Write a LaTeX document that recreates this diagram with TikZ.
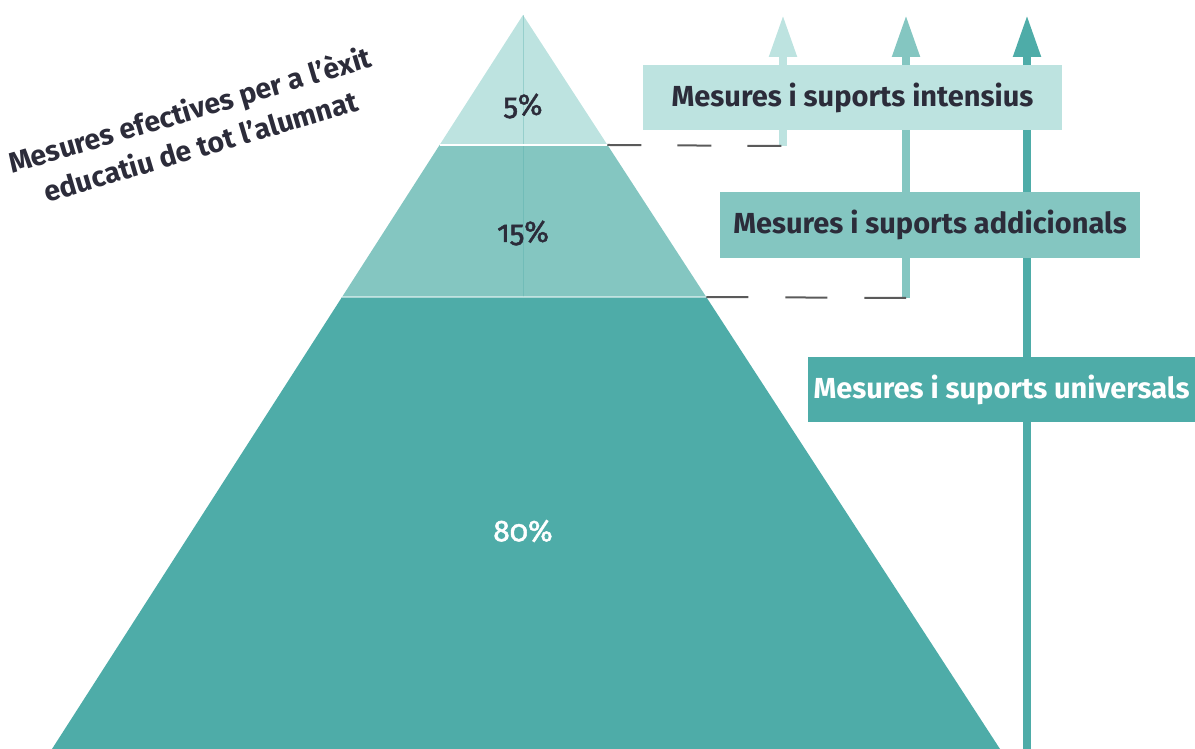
\documentclass[tikz,border=0pt]{standalone}
\usepackage{fontspec}
\setmainfont{Fira Sans}
\newfontfamily\pctfont{Fira Sans}[Numbers=OldStyle, FakeBold=1.6]
\usetikzlibrary{arrows.meta}
\usetikzlibrary{calc}

\definecolor{tealLight}{HTML}{BDE3E0}
\definecolor{tealMid}{HTML}{84C6C1}
\definecolor{tealDark}{HTML}{4EACA8}
\definecolor{textDark}{HTML}{2C2C3A}
\definecolor{dashGray}{HTML}{5A5A5A}

\begin{document}
\begin{tikzpicture}[x = 1pt, y = -1pt]
	\tikzstyle{boxStyle} = [shape = rectangle, inner sep = 0pt, minimum height = 65pt, font = \fontsize{29}{34}\selectfont\bfseries, text = textDark]
	\tikzstyle{arrowStyle} = [line width = 8pt, -{Triangle[width = 26pt, length = 42pt]}]
	\tikzstyle{dashStyle} = [line width = 2pt, draw = dashGray]
	\tikzstyle{pctStyle} = [font = \fontsize{30}{34}\selectfont\pctfont, text = textDark]
	\tikzstyle{titleStyle} = [align = center, rotate = 16.5, font = \fontsize{28.5}{38}\selectfont\bfseries, text = textDark]
	\useasboundingbox (0,0) rectangle (1195,749);
	% pyramid corners
	\coordinate (apex) at (523,15);
	\coordinate (bl) at (52,749);
	\coordinate (br) at (1000,749);
	\coordinate (l1) at ($(apex)!0.1771!(bl)$);
	\coordinate (r1) at ($(apex)!0.1771!(br)$);
	\coordinate (l2) at ($(apex)!0.3842!(bl)$);
	\coordinate (r2) at ($(apex)!0.3842!(br)$);
	\fill[tealDark] (l2) -- (r2) -- (br) -- (bl) -- cycle;
	\fill[tealMid] (l1) -- (r1) -- (r2) -- (l2) -- cycle;
	\fill[tealLight] (apex) -- (r1) -- (l1) -- cycle;
	\draw[tealDark, opacity = 0.35, line width = 0.6pt] (apex) -- (523,297);
	\draw[white, line width = 1.5pt] (l1) -- (r1);
	\draw[white, opacity = 0.5, line width = 1.5pt] (l2) -- (r2);
	\node[pctStyle] (p5) at (523,106) {5\%};
	\node[pctStyle] (p15) at (523,233) {15\%};
	\node[pctStyle, text = white] (p80) at (523,531) {80\%};
	% arrows
	\coordinate (a1b) at (783,146);
	\coordinate (a1t) at (783,15);
	\coordinate (a2b) at (906,298);
	\coordinate (a2t) at (906,15);
	\coordinate (a3b) at (1027,749);
	\coordinate (a3t) at (1027,15);
	\draw[arrowStyle, tealLight] (a1b) -- (a1t);
	\draw[arrowStyle, tealMid] (a2b) -- (a2t);
	\draw[arrowStyle, tealDark] (a3b) -- (a3t);
	\draw[dashStyle, dash pattern = on 34pt off 36pt] (r1) -- (a1b);
	\draw[dashStyle, dash pattern = on 42pt off 37pt] (r2) -- (a2b);
	% boxes
	\node[boxStyle, fill = tealLight, minimum width = 419pt] (b1) at (852.5,97.5) {Mesures i suports intensius};
	\node[boxStyle, fill = tealMid, minimum width = 420pt] (b2) at (930,225) {Mesures i suports addicionals};
	\node[boxStyle, fill = tealDark, minimum width = 387pt, text = white] (b3) at (1001.5,389.5) {Mesures i suports universals};
	\node[titleStyle] (title) at (195,127) {Mesures efectives per a l’èxit\\educatiu de tot l’alumnat};
\end{tikzpicture}
\end{document}
